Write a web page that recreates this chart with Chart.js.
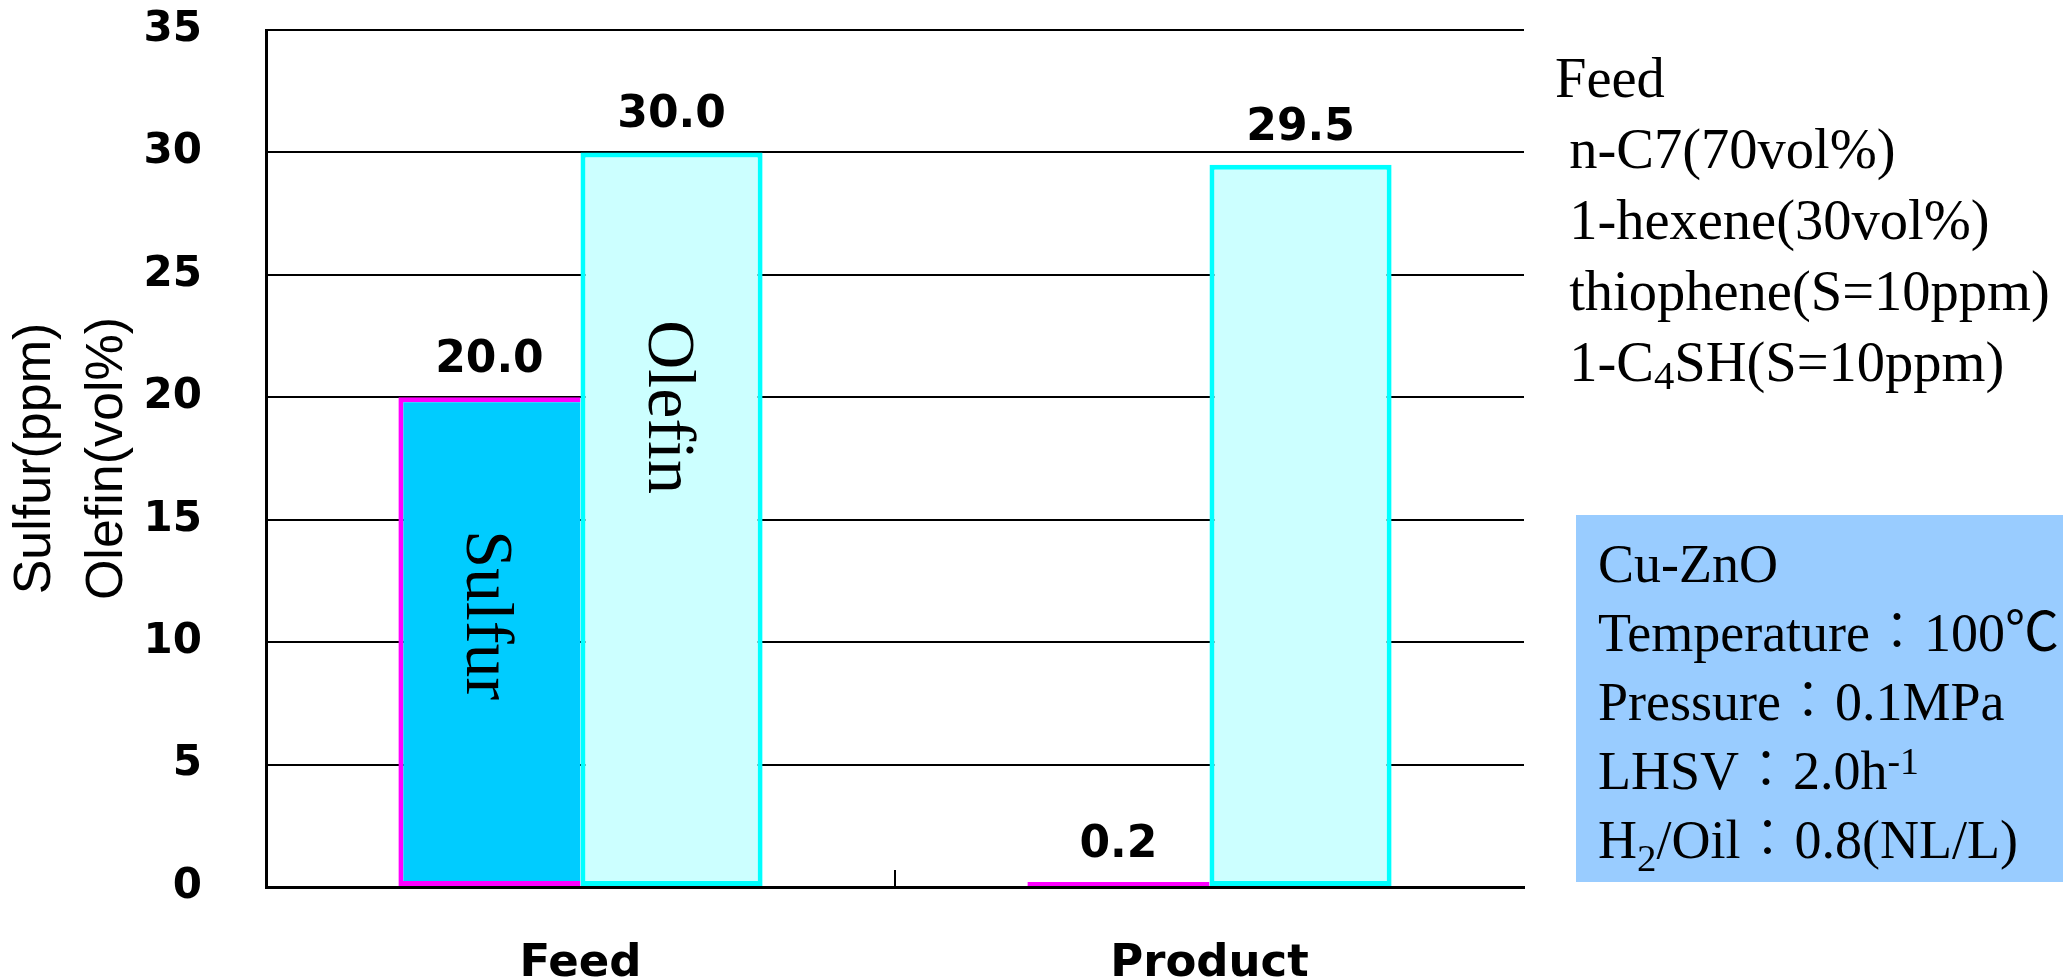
<!DOCTYPE html>
<html><head><meta charset="utf-8">
<script src="https://cdn.jsdelivr.net/npm/chart.js@4.4.1/dist/chart.umd.min.js"></script>
<style>html,body{margin:0;padding:0;background:#fff;overflow:hidden}canvas{display:block}</style>
</head><body><canvas id="c" width="2063" height="978"></canvas>
<script>
// ---- data ----
const categories = ['Feed', 'Product'];
const seriesNames = ['Sulfur', 'Olefin'];
const sulfurValues = [20.0, 0.2];
const olefinValues = [30.0, 29.5];
const yMin = 0, yMax = 35, yStep = 5;
const yTitleLines = ['Sulfur(ppm)', 'Olefin(vol%)'];
const feedLines = [
  [['Feed']],
  [[' n-C7(70vol%)']],
  [[' 1-hexene(30vol%)']],
  [[' thiophene(S=10ppm)']],
  [[' 1-C'], ['4', 'sub'], ['SH(S=10ppm)']]
];
const conditionLines = [
  [['Cu-ZnO']],
  [['Temperature：100'], ['℃', 'sym']],
  [['Pressure：0.1MPa']],
  [['LHSV：2.0h'], ['-1', 'sup']],
  [['H'], ['2', 'sub2'], ['/Oil：0.8(NL/L)']]
];

const serif = '"Liberation Serif", "Times New Roman", "Noto Sans CJK JP", serif';
const gothic = '"DejaVu Sans", sans-serif';

function drawRich(ctx, segs, x, y, size) {
  let cx = x;
  segs.forEach(([t, kind]) => {
    let s = size, dy = 0, w = '300 ';
    if (kind === 'sub') { s = size * 0.72; dy = 8; }
    if (kind === 'sub2') { s = size * 0.72; dy = 13; }
    if (kind === 'sup') { s = size * 0.7; dy = -15; }
    if (kind === 'sym') { w = '400 '; }
    ctx.font = w + s + 'px ' + serif;
    ctx.fillText(t, cx, y + dy);
    cx += ctx.measureText(t).width;
  });
}

const decorations = {
  id: 'decorations',
  afterDatasetsDraw(chart) {
    const ctx = chart.ctx;
    const yScale = chart.scales.y, xScale = chart.scales.x;
    ctx.save();
    ctx.fillStyle = '#000';
    // value labels
    ctx.font = 'bold 44px ' + gothic;
    ctx.textAlign = 'center';
    ctx.textBaseline = 'alphabetic';
    chart.data.datasets.forEach((ds, di) => {
      chart.getDatasetMeta(di).data.forEach((el, i) => {
        ctx.fillText(ds.data[i].toFixed(1), el.x, el.y - 25);
      });
    });
    // rotated series names inside the Feed bars
    const inBar = [{ds: 0, idx: 0, at: 11.1}, {ds: 1, idx: 0, at: 19.6}];
    const fs = 68;
    ctx.font = fs + 'px ' + serif;
    inBar.forEach(l => {
      const el = chart.getDatasetMeta(l.ds).data[l.idx];
      ctx.save();
      ctx.translate(el.x, yScale.getPixelForValue(l.at));
      ctx.rotate(Math.PI / 2);
      ctx.fillText(seriesNames[l.ds], 0, 0.662 * fs / 2);
      ctx.restore();
    });
    // inward tick marks between categories
    ctx.strokeStyle = '#000';
    ctx.lineWidth = 2;
    for (let i = 1; i < categories.length; i++) {
      const x = (xScale.getPixelForValue(i - 1) + xScale.getPixelForValue(i)) / 2;
      ctx.beginPath();
      ctx.moveTo(x, chart.chartArea.bottom);
      ctx.lineTo(x, chart.chartArea.bottom - 17);
      ctx.stroke();
    }
    ctx.restore();
  },
  afterDraw(chart) {
    const ctx = chart.ctx;
    ctx.save();
    ctx.fillStyle = '#000';
    ctx.textAlign = 'left';
    ctx.textBaseline = 'alphabetic';
    feedLines.forEach((segs, i) => drawRich(ctx, segs, 1555, 97 + i * 71, 56.5));
    ctx.fillStyle = '#99CCFF';
    ctx.fillRect(1576, 515, 2063 - 1576, 882 - 515);
    ctx.fillStyle = '#000';
    conditionLines.forEach((segs, i) => drawRich(ctx, segs, 1598, 582 + i * 69, 54));
    ctx.restore();
  }
};

new Chart(document.getElementById('c'), {
  type: 'bar',
  data: {
    labels: categories,
    datasets: [
      {label: seriesNames[0], data: sulfurValues, backgroundColor: '#00CCFF', borderColor: '#FF00FF',
       borderWidth: {left: 5, top: 5, right: 0, bottom: 5}, borderSkipped: false},
      {label: seriesNames[1], data: olefinValues, backgroundColor: '#CCFFFF', borderColor: '#00FFFF',
       borderWidth: 5, borderSkipped: false}
    ]
  },
  options: {
    responsive: false,
    maintainAspectRatio: false,
    animation: false,
    devicePixelRatio: 1,
    layout: {padding: {left: 0, top: 30, right: 539, bottom: 0}},
    datasets: {bar: {barPercentage: 1, categoryPercentage: 0.579}},
    plugins: {legend: {display: false}, tooltip: {enabled: false}},
    scales: {
      x: {
        grid: {display: false},
        border: {display: true, color: '#000', width: 3, z: 1},
        ticks: {color: '#000', font: {family: 'DejaVu Sans', size: 45, weight: 'bold'}, padding: 42, maxRotation: 0},
        afterFit: s => { s.height = 91; }
      },
      y: {
        min: yMin, max: yMax,
        ticks: {stepSize: yStep, color: '#000', font: {family: 'DejaVu Sans', size: 42, weight: 'bold'}, padding: 4},
        grid: {color: '#000', lineWidth: 2, drawTicks: true, tickLength: 60, tickColor: 'rgba(0,0,0,0)'},
        border: {display: true, color: '#000', width: 3},
        title: {display: true, text: yTitleLines, color: '#000',
                font: {family: 'Liberation Sans', size: 52, lineHeight: 1.385}, padding: {top: 0, bottom: 0}},
        afterFit: s => { s.width = 266; }
      }
    }
  },
  plugins: [decorations]
});
</script>
</body></html>
